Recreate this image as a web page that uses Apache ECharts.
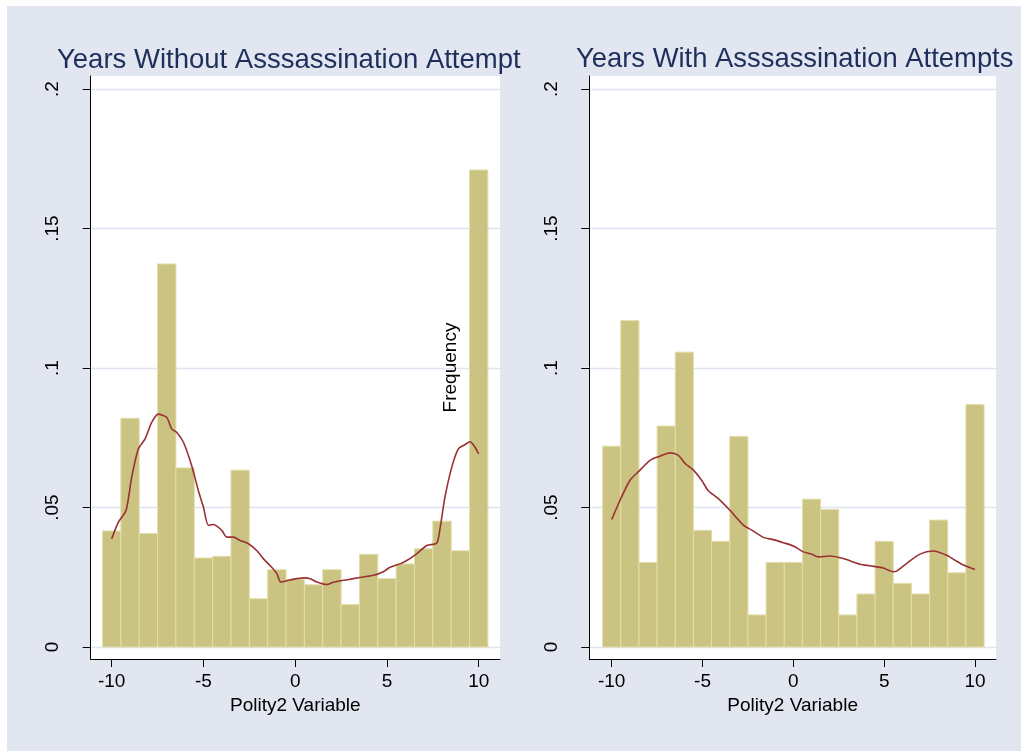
<!DOCTYPE html>
<html><head><meta charset="utf-8">
<script src="https://cdn.jsdelivr.net/npm/echarts@6/dist/echarts.min.js"></script>
<style>
html,body{margin:0;padding:0;background:#ffffff;}
#c{position:absolute;left:7px;top:6px;width:1014px;height:745px;}
</style>
</head><body><div id="c"></div>
<script>
// ---- data ----
const polity = [-10,-9,-8,-7,-6,-5,-4,-3,-2,-1,0,1,2,3,4,5,6,7,8,9,10];
const freqWithout = [0.0416,0.082,0.0407,0.1373,0.0642,0.0319,0.0325,0.0634,0.0173,0.0277,0.0242,0.0223,0.0277,0.0152,0.0332,0.0245,0.0298,0.0352,0.0451,0.0345,0.171];
const freqWith = [0.072,0.117,0.0303,0.0792,0.1057,0.0418,0.0379,0.0755,0.0115,0.0303,0.0303,0.053,0.0493,0.0115,0.019,0.0379,0.0228,0.019,0.0455,0.0266,0.0869];
const densWithoutX = [-10,-9.64,-9.22,-8.91,-8.55,-8.18,-7.82,-7.46,-7.0,-6.73,-6.46,-6.09,-5.64,-5.28,-5.0,-4.73,-4.46,-4.0,-3.73,-3.37,-3.0,-2.55,-2.1,-1.73,-1.37,-1.0,-0.79,-0.37,0.08,0.54,0.81,1.17,1.72,2.08,2.62,3.17,3.71,4.26,4.8,5.17,5.71,6.08,6.62,7.17,7.71,7.89,8.16,8.53,8.89,9.26,9.53,9.8,10];
const densWithoutY = [0.0388,0.0447,0.0489,0.0609,0.071,0.0746,0.0805,0.0835,0.0823,0.0782,0.077,0.0734,0.065,0.0561,0.0501,0.0436,0.0439,0.0418,0.0394,0.0394,0.0382,0.037,0.0346,0.0316,0.0292,0.0263,0.0233,0.0239,0.0245,0.0248,0.0245,0.0233,0.0224,0.0232,0.0239,0.0245,0.0251,0.0257,0.027,0.0286,0.0298,0.031,0.0334,0.0364,0.0372,0.0424,0.0537,0.0644,0.071,0.0726,0.0736,0.0716,0.0692];
const densWithX = [-10,-9.54,-8.99,-8.44,-7.89,-7.34,-6.79,-6.33,-5.96,-5.5,-5.05,-4.68,-4.13,-3.49,-2.75,-2.29,-1.65,-1.1,-0.55,0.0,0.55,1.0,1.38,2.02,2.75,3.67,4.22,4.95,5.5,5.69,6.24,6.97,7.7,8.44,8.9,9.36,10];
const densWithY = [0.0457,0.0526,0.0598,0.0634,0.0669,0.0684,0.0696,0.0687,0.0658,0.0634,0.0598,0.056,0.0532,0.049,0.0437,0.0419,0.0393,0.0385,0.0374,0.0362,0.0341,0.0333,0.0323,0.0326,0.0317,0.0297,0.0291,0.0283,0.027,0.0272,0.03,0.0333,0.0344,0.0329,0.0311,0.0294,0.0278];
const xTicks = [-10,-5,0,5,10];
const yTicks = [0,0.05,0.1,0.15,0.2];
const titles = ['Years Without Asssassination Attempt','Years With Asssassination Attempts'];
const xTitle = 'Polity2 Variable';
const yTitle = 'Frequency';

// ---- styling ----
const FONT = '"Liberation Sans", Arial, sans-serif';
const BAR_FILL = '#cbc382';
const BAR_EDGE = '#e3dda9';
const LINE_COLOR = '#983034';
const GRID_COLOR = '#dfe4ee';

function yFmt(v){ return String(+v.toFixed(2)).replace(/^0\./,'.'); }

function barRender(params, api){
  const x = api.value(0), y = api.value(1);
  const p0 = api.coord([x - 0.5, y]);
  const p1 = api.coord([x + 0.5, 0]);
  return {type:'rect', shape:{x:p0[0], y:p0[1], width:p1[0]-p0[0], height:p1[1]-p0[1]},
          style:{fill:BAR_FILL, stroke:BAR_EDGE, lineWidth:1}};
}

function xAxisCfg(gi, min, max){
  return {gridIndex:gi, type:'value', min:min, max:max,
    axisLine:{show:true, onZero:false, lineStyle:{color:'#000', width:1}},
    axisTick:{show:true, length:8, customValues:xTicks, lineStyle:{color:'#000', width:1}},
    axisLabel:{customValues:xTicks, fontSize:19, color:'#000', margin:13, fontFamily:FONT},
    splitLine:{show:false},
    name:xTitle, nameLocation:'middle', nameGap:32,
    nameTextStyle:{fontSize:19, color:'#000', fontFamily:FONT}};
}
function yAxisCfg(gi, name){
  const c = {gridIndex:gi, type:'value', min:-0.0043, max:0.2047,
    axisLine:{show:true, onZero:false, lineStyle:{color:'#000', width:1}},
    axisTick:{show:true, length:8, customValues:yTicks, lineStyle:{color:'#000', width:1}},
    axisLabel:{customValues:yTicks, fontSize:19, color:'#000', margin:28, rotate:90, formatter:yFmt, fontFamily:FONT},
    splitLine:{show:true, lineStyle:{color:GRID_COLOR, width:1.3}}};
  if (name){
    c.name = name; c.nameLocation = 'middle'; c.nameRotate = 90; c.nameGap = 129;
    c.nameTextStyle = {fontSize:19, color:'#000', fontFamily:FONT};
  }
  return c;
}

const chart = echarts.init(document.getElementById('c'));
chart.setOption({
  backgroundColor:'#e1e6f0',
  animation:false,
  title:[
    {text:titles[0], left:50, top:40, padding:0, textStyle:{fontSize:27.5, fontWeight:'normal', color:'#1f2f5c', fontFamily:FONT}},
    {text:titles[1], left:569, top:40, padding:0, textStyle:{fontSize:27.4, fontWeight:'normal', color:'#1f2f5c', fontFamily:FONT}}
  ],
  grid:[
    {left:83.7, top:70, width:409.3, height:583, show:true, backgroundColor:'#ffffff', borderWidth:0},
    {left:582.3, top:70, width:406.7, height:583, show:true, backgroundColor:'#ffffff', borderWidth:0}
  ],
  xAxis:[xAxisCfg(0, -11.144, 11.16), xAxisCfg(1, -11.233, 11.156)],
  yAxis:[yAxisCfg(0, null), yAxisCfg(1, yTitle)],
  series:[
    {type:'custom', xAxisIndex:0, yAxisIndex:0, renderItem:barRender, encode:{x:0,y:1},
     data:polity.map((p,i)=>[p, freqWithout[i]])},
    {type:'line', xAxisIndex:0, yAxisIndex:0, showSymbol:false, smooth:0.25,
     lineStyle:{color:LINE_COLOR, width:1.6}, data:densWithoutX.map((x,i)=>[x, densWithoutY[i]])},
    {type:'custom', xAxisIndex:1, yAxisIndex:1, renderItem:barRender, encode:{x:0,y:1},
     data:polity.map((p,i)=>[p, freqWith[i]])},
    {type:'line', xAxisIndex:1, yAxisIndex:1, showSymbol:false, smooth:0.25,
     lineStyle:{color:LINE_COLOR, width:1.6}, data:densWithX.map((x,i)=>[x, densWithY[i]])}
  ]
});
</script>
</body></html>
